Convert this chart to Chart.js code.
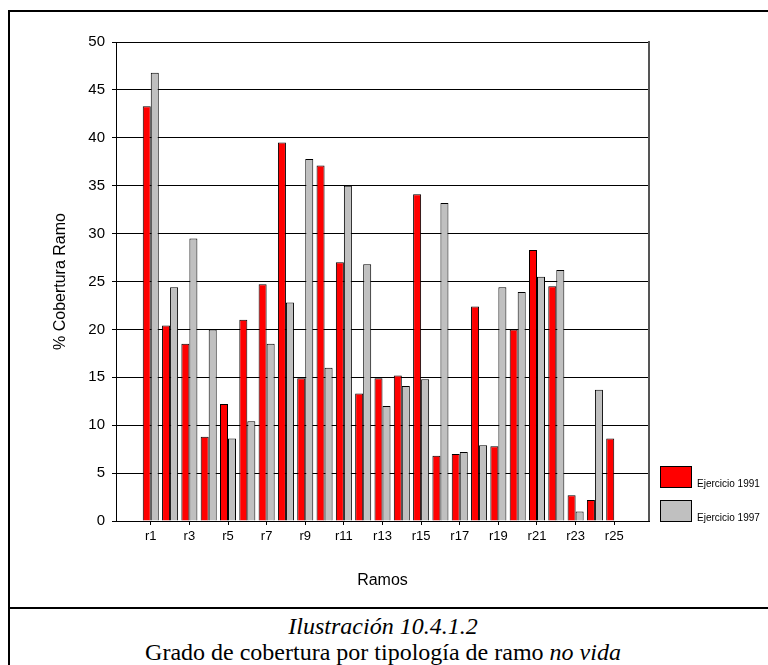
<!DOCTYPE html>
<html>
<head>
<meta charset="utf-8">
<script src="https://cdn.jsdelivr.net/npm/chart.js@4/dist/chart.umd.min.js"></script>
<style>
  html, body { margin: 0; padding: 0; background: #fff; }
  body { width: 768px; height: 665px; position: relative; overflow: hidden;
         font-family: "Liberation Sans", Arial, sans-serif; color: #000; }
  #frame { position: absolute; left: 8px; top: 10px; width: 820px; height: 720px;
           border-left: 2px solid #000; border-top: 2px solid #000; }
  #sep { position: absolute; left: 8px; top: 607px; width: 780px; height: 2px; background: #000; }
  #wrap { position: absolute; left: 0; top: 0; width: 768px; height: 607px; }
  #legend { position: absolute; left: 0; top: 0; }
  .swatch { position: absolute; left: 660px; width: 30px; height: 20px; border: 1px solid #000; }
  .ltext { position: absolute; left: 697px; font-size: 10px; line-height: 12px; white-space: nowrap; }
  .caption { position: absolute; left: 0; width: 766px; text-align: center;
             font-family: "Liberation Serif", "Times New Roman", serif; font-size: 24px;
             line-height: 26px; white-space: nowrap; }
  .caption i { font-style: italic; }
</style>
</head>
<body>
<div id="frame"></div>
<div id="wrap"><canvas id="chart" width="768" height="607"></canvas></div>
<div id="legend"></div>
<div id="sep"></div>
<div class="caption" style="top:613px"><i>Ilustración 10.4.1.2</i></div>
<div class="caption" style="top:639px">Grado de cobertura por tipología de ramo <i>no vida</i></div>

<script>
// Ramos (categories) and coverage percentages per year
const categories = ['r1','r2','r3','r4','r5','r6','r7','r8','r9','r10','r11','r12','r13',
                    'r14','r15','r16','r17','r18','r19','r20','r21','r22','r23','r24','r25'];
const ejercicio1991 = [43.3, 20.4, 18.5, 8.8, 12.2, 21.0, 24.7, 39.5, 14.9, 37.1, 27.0, 13.3, 14.9,
                       15.2, 34.1, 6.8, 7.0, 22.4, 7.8, 20.0, 28.3, 24.5, 2.7, 2.2, 8.6];
const ejercicio1997 = [46.8, 24.4, 29.5, 20.0, 8.6, 10.4, 18.5, 22.8, 37.8, 16.0, 35.0, 26.8, 12.0,
                       14.1, 14.8, 33.2, 7.2, 7.9, 24.4, 23.9, 25.5, 26.2, 1.0, 13.7, 0];
const seriesNames = ['Ejercicio 1991', 'Ejercicio 1997'];
const yTicks = [0, 5, 10, 15, 20, 25, 30, 35, 40, 45, 50];

const toPoints = arr => arr.map((v, i) => ({ x: i + 1, y: v }));
const FONT = '"Liberation Sans", Arial, sans-serif';

// right-hand edge of the plot frame
const plotFrame = {
  id: 'plotFrame',
  afterDraw(chart) {
    const { ctx, chartArea: a } = chart;
    ctx.save();
    ctx.strokeStyle = '#555';
    ctx.lineWidth = 2;
    ctx.beginPath();
    ctx.moveTo(a.right, a.top - 1);
    ctx.lineTo(a.right, a.bottom);
    ctx.stroke();
    ctx.restore();
  }
};

const chart = new Chart(document.getElementById('chart'), {
  type: 'bar',
  data: {
    datasets: [
      { label: seriesNames[0], data: toPoints(ejercicio1991),
        backgroundColor: '#ff0000', borderColor: '#000', borderWidth: 1 },
      { label: seriesNames[1], data: toPoints(ejercicio1997),
        backgroundColor: '#c0c0c0', borderColor: '#000', borderWidth: 1 }
    ]
  },
  options: {
    responsive: false,
    animation: false,
    layout: { padding: { left: 51, top: 42, right: 119, bottom: 0 } },
    datasets: { bar: { categoryPercentage: 0.83, barPercentage: 1.0 } },
    plugins: { legend: { display: false }, tooltip: { enabled: false } },
    scales: {
      x: {
        type: 'linear', min: -0.8, max: 26.8, offset: false,
        afterBuildTicks: s => {
          s.ticks = categories.map((c, i) => ({ value: i + 1 })).filter((t, i) => i % 2 === 0);
        },
        ticks: { callback: v => categories[v - 1], autoSkip: false, maxRotation: 0,
                 font: { family: FONT, size: 13 }, color: '#000', padding: 4 },
        grid: { drawOnChartArea: false, drawTicks: true, tickLength: 4, color: '#000', offset: false },
        border: { color: '#000', width: 1 },
        title: { display: true, text: 'Ramos', color: '#000',
                 font: { family: FONT, size: 16 }, padding: { top: 0, bottom: 17 } },
        afterFit: s => { s.height = 86; }
      },
      y: {
        min: 0, max: 50,
        afterBuildTicks: s => { s.ticks = yTicks.map(v => ({ value: v })); },
        ticks: { font: { family: FONT, size: 15 }, color: '#000', padding: 7 },
        grid: { color: '#000', lineWidth: 1, tickLength: 4, drawTicks: true },
        border: { color: '#000', width: 1 },
        title: { display: true, text: '% Cobertura Ramo', color: '#000',
                 font: { family: FONT, size: 16 }, padding: { top: 0, bottom: 0 } },
        afterFit: s => { s.width = 65; }
      }
    }
  },
  plugins: [plotFrame]
});

// legend entries built from the chart's datasets
const legend = document.getElementById('legend');
const legendTops = [466, 500];
chart.data.datasets.forEach((ds, i) => {
  const sw = document.createElement('div');
  sw.className = 'swatch';
  sw.style.top = legendTops[i] + 'px';
  sw.style.background = ds.backgroundColor;
  legend.appendChild(sw);
  const tx = document.createElement('div');
  tx.className = 'ltext';
  tx.style.top = (legendTops[i] + 12) + 'px';
  tx.textContent = ds.label;
  legend.appendChild(tx);
});
</script>
</body>
</html>
